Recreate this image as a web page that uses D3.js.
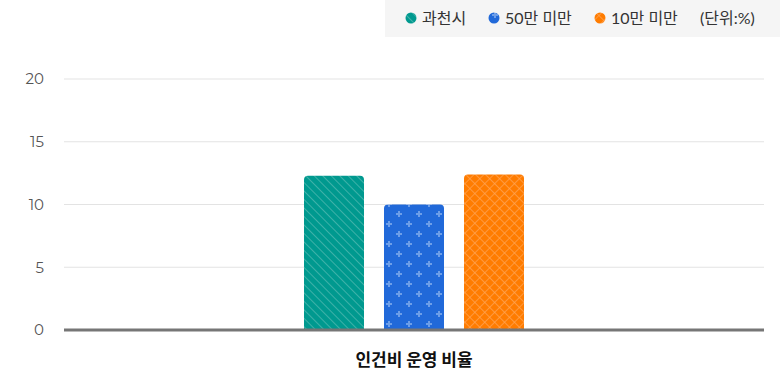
<!DOCTYPE html>
<html>
<head>
<meta charset="utf-8">
<script src="https://cdn.jsdelivr.net/npm/d3@7"></script>
<style>
  body { margin: 0; background: #fff; }
  text { font-family: Lato, "Noto Sans CJK KR", sans-serif; }
</style>
</head>
<body>
<div id="chart"></div>
<script>
// Chart data
var categories = ["인건비 운영 비율"];
var seriesNames = ["과천시", "50만 미만", "10만 미만"];
var seriesValues = [12.3, 10.0, 12.4];
var yTicks = [0, 5, 10, 15, 20];
var unitLabel = "(단위:%)";

var colors = ["#00998f", "#2169d9", "#ff7c00"];
var patternIds = ["pat-stripe", "pat-plus", "pat-cross"];

var main = function () {
    "use strict";

    var width = 780, height = 375;
    var margin = {top: 79, right: 16, bottom: 45, left: 64};

    var svg = d3.select("#chart").append("svg")
        .attr("width", width)
        .attr("height", height);

    // Patterns for the bars
    var defs = svg.append("defs");

    var stripe = defs.append("pattern")
        .attr("id", patternIds[0])
        .attr("patternUnits", "userSpaceOnUse")
        .attr("width", 6).attr("height", 6)
        .attr("patternTransform", "rotate(-45)");
    stripe.append("rect").attr("width", 6).attr("height", 6).attr("fill", colors[0]);
    stripe.append("line").attr("x1", 0).attr("y1", 0).attr("x2", 0).attr("y2", 6)
        .attr("stroke", "#4db8af").attr("stroke-width", 1.6);

    var plus = defs.append("pattern")
        .attr("id", patternIds[1])
        .attr("patternUnits", "userSpaceOnUse")
        .attr("width", 20).attr("height", 20)
        .attr("x", 0).attr("y", 0);
    plus.append("rect").attr("width", 20).attr("height", 20).attr("fill", colors[1]);
    [[5, 5], [15, 15]].forEach(function (p) {
        plus.append("path")
            .attr("d", "M" + (p[0] - 3) + "," + p[1] + "H" + (p[0] + 3) + "M" + p[0] + "," + (p[1] - 3) + "V" + (p[1] + 3))
            .attr("stroke", "#6d9ee8").attr("stroke-width", 2);
    });

    var cross = defs.append("pattern")
        .attr("id", patternIds[2])
        .attr("patternUnits", "userSpaceOnUse")
        .attr("width", 7).attr("height", 7)
        .attr("patternTransform", "rotate(45)");
    cross.append("rect").attr("width", 7).attr("height", 7).attr("fill", colors[2]);
    cross.append("path").attr("d", "M0,0V7M0,0H7")
        .attr("stroke", "#ffa455").attr("stroke-width", 1.4);

    var plotW = width - margin.left - margin.right,
        plotH = height - margin.top - margin.bottom;

    var g = svg.append("g")
        .attr("transform", "translate(" + margin.left + "," + margin.top + ")");

    var x = d3.scaleBand().domain(categories).range([0, plotW]);
    var y = d3.scaleLinear().domain([0, 20]).range([plotH, 0]);

    // Grid lines
    g.append("g").selectAll("line")
        .data(yTicks.filter(function (d) { return d > 0; }))
        .enter().append("line")
        .attr("x1", 0).attr("x2", plotW)
        .attr("y1", function (d) { return y(d); })
        .attr("y2", function (d) { return y(d); })
        .attr("stroke", "#e3e3e3").attr("stroke-width", 1);

    // Y axis labels
    var yAxis = g.append("g")
        .call(d3.axisLeft(y).tickValues(yTicks).tickSize(0).tickPadding(20));
    yAxis.select(".domain").remove();
    yAxis.selectAll("text")
        .attr("fill", "#555").attr("font-size", 15)
        .style("font-family", "Montserrat, Lato, sans-serif");

    // Bars
    var barW = 60, gap = 20;
    var groupW = seriesValues.length * barW + (seriesValues.length - 1) * gap;
    var x1 = d3.scaleBand().domain(seriesNames)
        .range([0, groupW]).paddingInner(gap / (barW + gap));
    var radius = 4;

    categories.forEach(function (cat) {
        var x0 = x(cat) + x.bandwidth() / 2 - groupW / 2;
        g.append("g").selectAll("path")
            .data(seriesValues)
            .enter().append("path")
            .attr("d", function (d, i) {
                var bx = x0 + x1(seriesNames[i]), by = y(d), bw = x1.bandwidth(), bh = y(0) - y(d);
                return "M" + bx + "," + (by + bh) + "V" + (by + radius) +
                    "Q" + bx + "," + by + " " + (bx + radius) + "," + by +
                    "H" + (bx + bw - radius) +
                    "Q" + (bx + bw) + "," + by + " " + (bx + bw) + "," + (by + radius) +
                    "V" + (by + bh) + "Z";
            })
            .attr("fill", function (d, i) { return "url(#" + patternIds[i] + ")"; });
    });

    // Baseline
    g.append("line")
        .attr("x1", 0).attr("x2", plotW)
        .attr("y1", y(0)).attr("y2", y(0))
        .attr("stroke", "#767676").attr("stroke-width", 3);

    // X axis label
    g.append("g").selectAll("text")
        .data(categories).enter().append("text")
        .attr("x", function (d) { return x(d) + x.bandwidth() / 2; })
        .attr("y", plotH + 36)
        .attr("text-anchor", "middle")
        .attr("font-size", 17).attr("font-weight", "bold")
        .attr("fill", "#111")
        .style("font-family", "'Noto Sans CJK KR', sans-serif")
        .text(function (d) { return d; });

    // Legend
    var legend = svg.append("g");
    legend.append("rect")
        .attr("x", 385).attr("y", 0).attr("width", 395).attr("height", 37)
        .attr("fill", "#f5f5f5");
    var legendX = [411, 494, 600];
    seriesNames.forEach(function (name, i) {
        legend.append("circle")
            .attr("cx", legendX[i]).attr("cy", 18).attr("r", 5.5)
            .attr("fill", "url(#" + patternIds[i] + ")");
        legend.append("text")
            .attr("x", legendX[i] + 11).attr("y", 24)
            .attr("font-size", 16).attr("fill", "#333")
            .style("font-family", "Lato, 'Noto Sans CJK KR', sans-serif")
            .text(name);
    });
    legend.append("text")
        .attr("x", 700).attr("y", 24)
        .attr("font-size", 16).attr("fill", "#333")
        .style("font-family", "Lato, 'Noto Sans CJK KR', sans-serif")
        .text(unitLabel);
};

main();
</script>
</body>
</html>
